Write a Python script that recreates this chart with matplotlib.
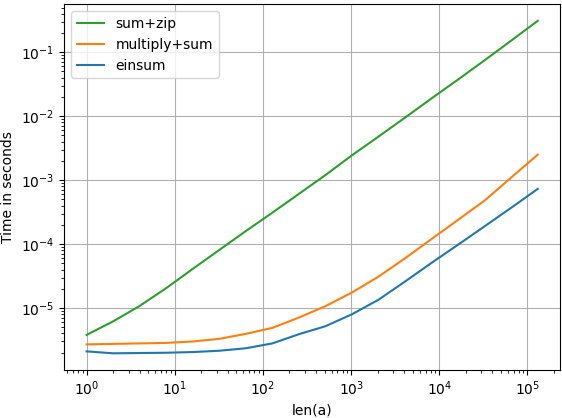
import matplotlib
matplotlib.use("Agg")
import matplotlib.pyplot as plt

n = [2**k for k in range(18)]
sum_zip = [3.8e-6, 6.2e-6, 1.08e-5, 2.05e-5, 4.1e-5, 8.1e-5, 1.6e-4, 3.1e-4,
           6.1e-4, 1.2e-3, 2.45e-3, 4.8e-3, 9.5e-3, 1.9e-2, 3.75e-2, 7.5e-2,
           0.152, 0.31]
multiply_sum = [2.7e-6, 2.75e-6, 2.8e-6, 2.85e-6, 3.0e-6, 3.3e-6, 3.95e-6, 4.9e-6,
                7.1e-6, 1.07e-5, 1.75e-5, 3.1e-5, 6.0e-5, 1.2e-4, 2.4e-4, 4.8e-4,
                1.1e-3, 2.5e-3]
einsum = [2.1e-6, 1.96e-6, 1.98e-6, 2.0e-6, 2.05e-6, 2.15e-6, 2.35e-6, 2.8e-6,
          3.9e-6, 5.2e-6, 8.0e-6, 1.35e-5, 2.6e-5, 5.1e-5, 9.8e-5, 1.9e-4,
          3.7e-4, 7.3e-4]

fig, ax = plt.subplots(figsize=(5.62, 4.18), dpi=100)
ax.plot(n, sum_zip, color="C2", label="sum+zip")
ax.plot(n, multiply_sum, color="C1", label="multiply+sum")
ax.plot(n, einsum, color="C0", label="einsum")
ax.set_xscale("log")
ax.set_yscale("log")
ax.grid(True)
ax.set_xlabel("len(a)")
ax.set_ylabel("Time in seconds")
ax.legend(loc="upper left")
fig.subplots_adjust(left=0.114, right=0.997, top=0.99, bottom=0.115)
fig.savefig("out.png")
